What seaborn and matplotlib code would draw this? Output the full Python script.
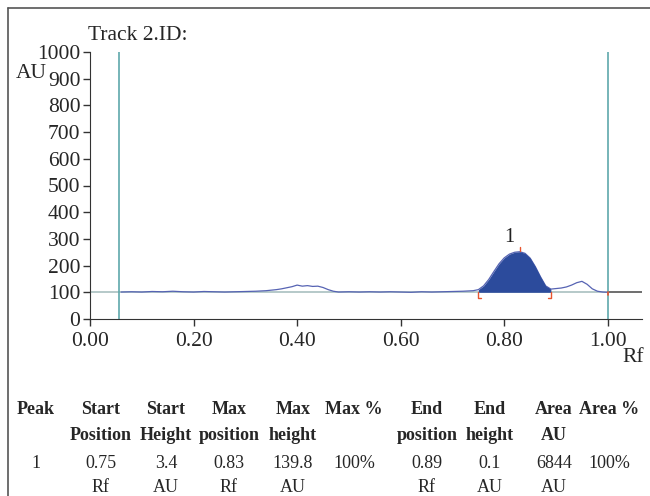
import numpy as np
import pandas as pd
import matplotlib
matplotlib.use("Agg")
import matplotlib.pyplot as plt
import seaborn as sns

# densitogram trace (Rf vs AU)
rf = [0.06, 0.08, 0.10, 0.12, 0.14, 0.16, 0.18, 0.20, 0.22, 0.24, 0.26, 0.28,
      0.30, 0.32, 0.34, 0.36, 0.37, 0.38, 0.39, 0.40, 0.41, 0.42, 0.43, 0.44,
      0.45, 0.46, 0.47, 0.48, 0.50, 0.52, 0.54, 0.56, 0.58, 0.60, 0.62, 0.64,
      0.66, 0.68, 0.70, 0.72, 0.74, 0.75, 0.76, 0.77, 0.78, 0.79, 0.80, 0.81,
      0.82, 0.83, 0.84, 0.85, 0.86, 0.87, 0.88, 0.89, 0.90, 0.91, 0.92, 0.93,
      0.94, 0.95, 0.96, 0.97, 0.98, 0.99, 1.00]
au = [101, 102, 101, 103, 102, 104, 102, 101, 103, 102, 101, 102,
      103, 104, 106, 110, 113, 117, 121, 127, 123, 125, 122, 123,
      118, 110, 104, 101, 102, 101, 102, 101, 102, 101, 100, 102,
      101, 102, 103, 104, 106, 110, 124, 148, 178, 207, 229, 243,
      250, 252, 246, 228, 196, 158, 124, 112, 114, 116, 120, 127,
      136, 141, 130, 113, 104, 101, 100]

baseline = 100
peak_start, peak_max, peak_end = 0.75, 0.83, 0.89
front_lines = [0.056, 1.00]

table_cols = [("Peak", ""), ("Start", "Position"), ("Start", "Height"),
              ("Max", "position"), ("Max", "height"), ("Max %", ""),
              ("End", "position"), ("End", "height"), ("Area", "AU"), ("Area %", "")]
table_vals = ["1", "0.75", "3.4", "0.83", "139.8", "100%", "0.89", "0.1", "6844", "100%"]
table_units = ["", "Rf", "AU", "Rf", "AU", "", "Rf", "AU", "AU", ""]
col_x = [36, 101, 166, 229, 293, 354, 427, 490, 554, 609]

sns.set_style("ticks")
plt.rcParams["font.family"] = ["Liberation Serif", "DejaVu Serif"]

fig = plt.figure(figsize=(6.5, 4.96), dpi=100)
ax = fig.add_axes([90 / 650, 1 - 319 / 496, (642 - 90) / 650, (319 - 52) / 496])

df = pd.DataFrame({"Rf": rf, "AU": au})
# baseline
ax.plot([0, 1.0], [baseline, baseline], color="#a9c0c0", lw=1.2, zorder=1)
ax.plot([1.0, 1.066], [baseline, baseline], color="#555555", lw=1.2, zorder=1)
# solvent / front lines
for xv in front_lines:
    ax.plot([xv, xv], [0, 1000], color="#5fa8ab", lw=1.2, zorder=2)

sns.lineplot(data=df, x="Rf", y="AU", ax=ax, color="#5663b3", lw=0.9, zorder=3)

m = (df["Rf"] >= peak_start) & (df["Rf"] <= peak_end)
ax.fill_between(df["Rf"][m], baseline, df["AU"][m], color="#2c4b9c", lw=0, zorder=4)

red = "#e8552e"
ax.plot([peak_start + 0.006, peak_start, peak_start], [baseline - 22, baseline - 22, baseline],
        color=red, lw=1, zorder=5)
ax.plot([peak_end - 0.006, peak_end, peak_end], [baseline - 22, baseline - 22, baseline],
        color=red, lw=1, zorder=5)
ax.plot([peak_max, peak_max], [254, 268], color=red, lw=1, zorder=5)
ax.plot([1.0, 1.0], [baseline - 10, baseline], color=red, lw=1.2, zorder=5)
ax.text(0.81, 268, "1", fontsize=14.5, ha="center", va="bottom", color="#222222")

ax.set_xlim(0, 1.066)
ax.set_ylim(0, 1000)
ax.set_xticks([0, 0.2, 0.4, 0.6, 0.8, 1.0])
ax.set_xticklabels(["0.00", "0.20", "0.40", "0.60", "0.80", "1.00"])
ax.set_yticks(range(0, 1001, 100))
ax.tick_params(labelsize=15.5, length=5, width=1, color="#333333", pad=2)
ax.tick_params(axis="x", pad=4)
ax.set_xlabel("")
ax.set_ylabel("")
for s in ["top", "right"]:
    ax.spines[s].set_visible(False)
for s in ["left", "bottom"]:
    ax.spines[s].set_color("#333333")

fig.text(88 / 650, 1 - 35 / 496, "Track 2.ID:", fontsize=15.5, va="center", ha="left")
fig.text(31 / 650, 1 - 74 / 496, "AU", fontsize=15.5, va="center", ha="center")
fig.text(633 / 650, 1 - 358 / 496, "Rf", fontsize=15.5, va="center", ha="center")

# frame
fig.add_artist(plt.Line2D([8 / 650, 8 / 650], [0, 1 - 8 / 496], color="#555555", lw=1.2))
fig.add_artist(plt.Line2D([8 / 650, 1], [1 - 8 / 496, 1 - 8 / 496], color="#555555", lw=1.2))

# result table
for x, (h1, h2), v, u in zip(col_x, table_cols, table_vals, table_units):
    fig.text(x / 650, 1 - 410 / 496, h1, fontsize=13, fontweight="bold", ha="center", va="center")
    fig.text(x / 650, 1 - 435 / 496, h2, fontsize=13, fontweight="bold", ha="center", va="center")
    fig.text(x / 650, 1 - 463 / 496, v, fontsize=13, ha="center", va="center")
    fig.text(x / 650, 1 - 488 / 496, u, fontsize=13, ha="center", va="center")

fig.savefig("out.png", dpi=100)
